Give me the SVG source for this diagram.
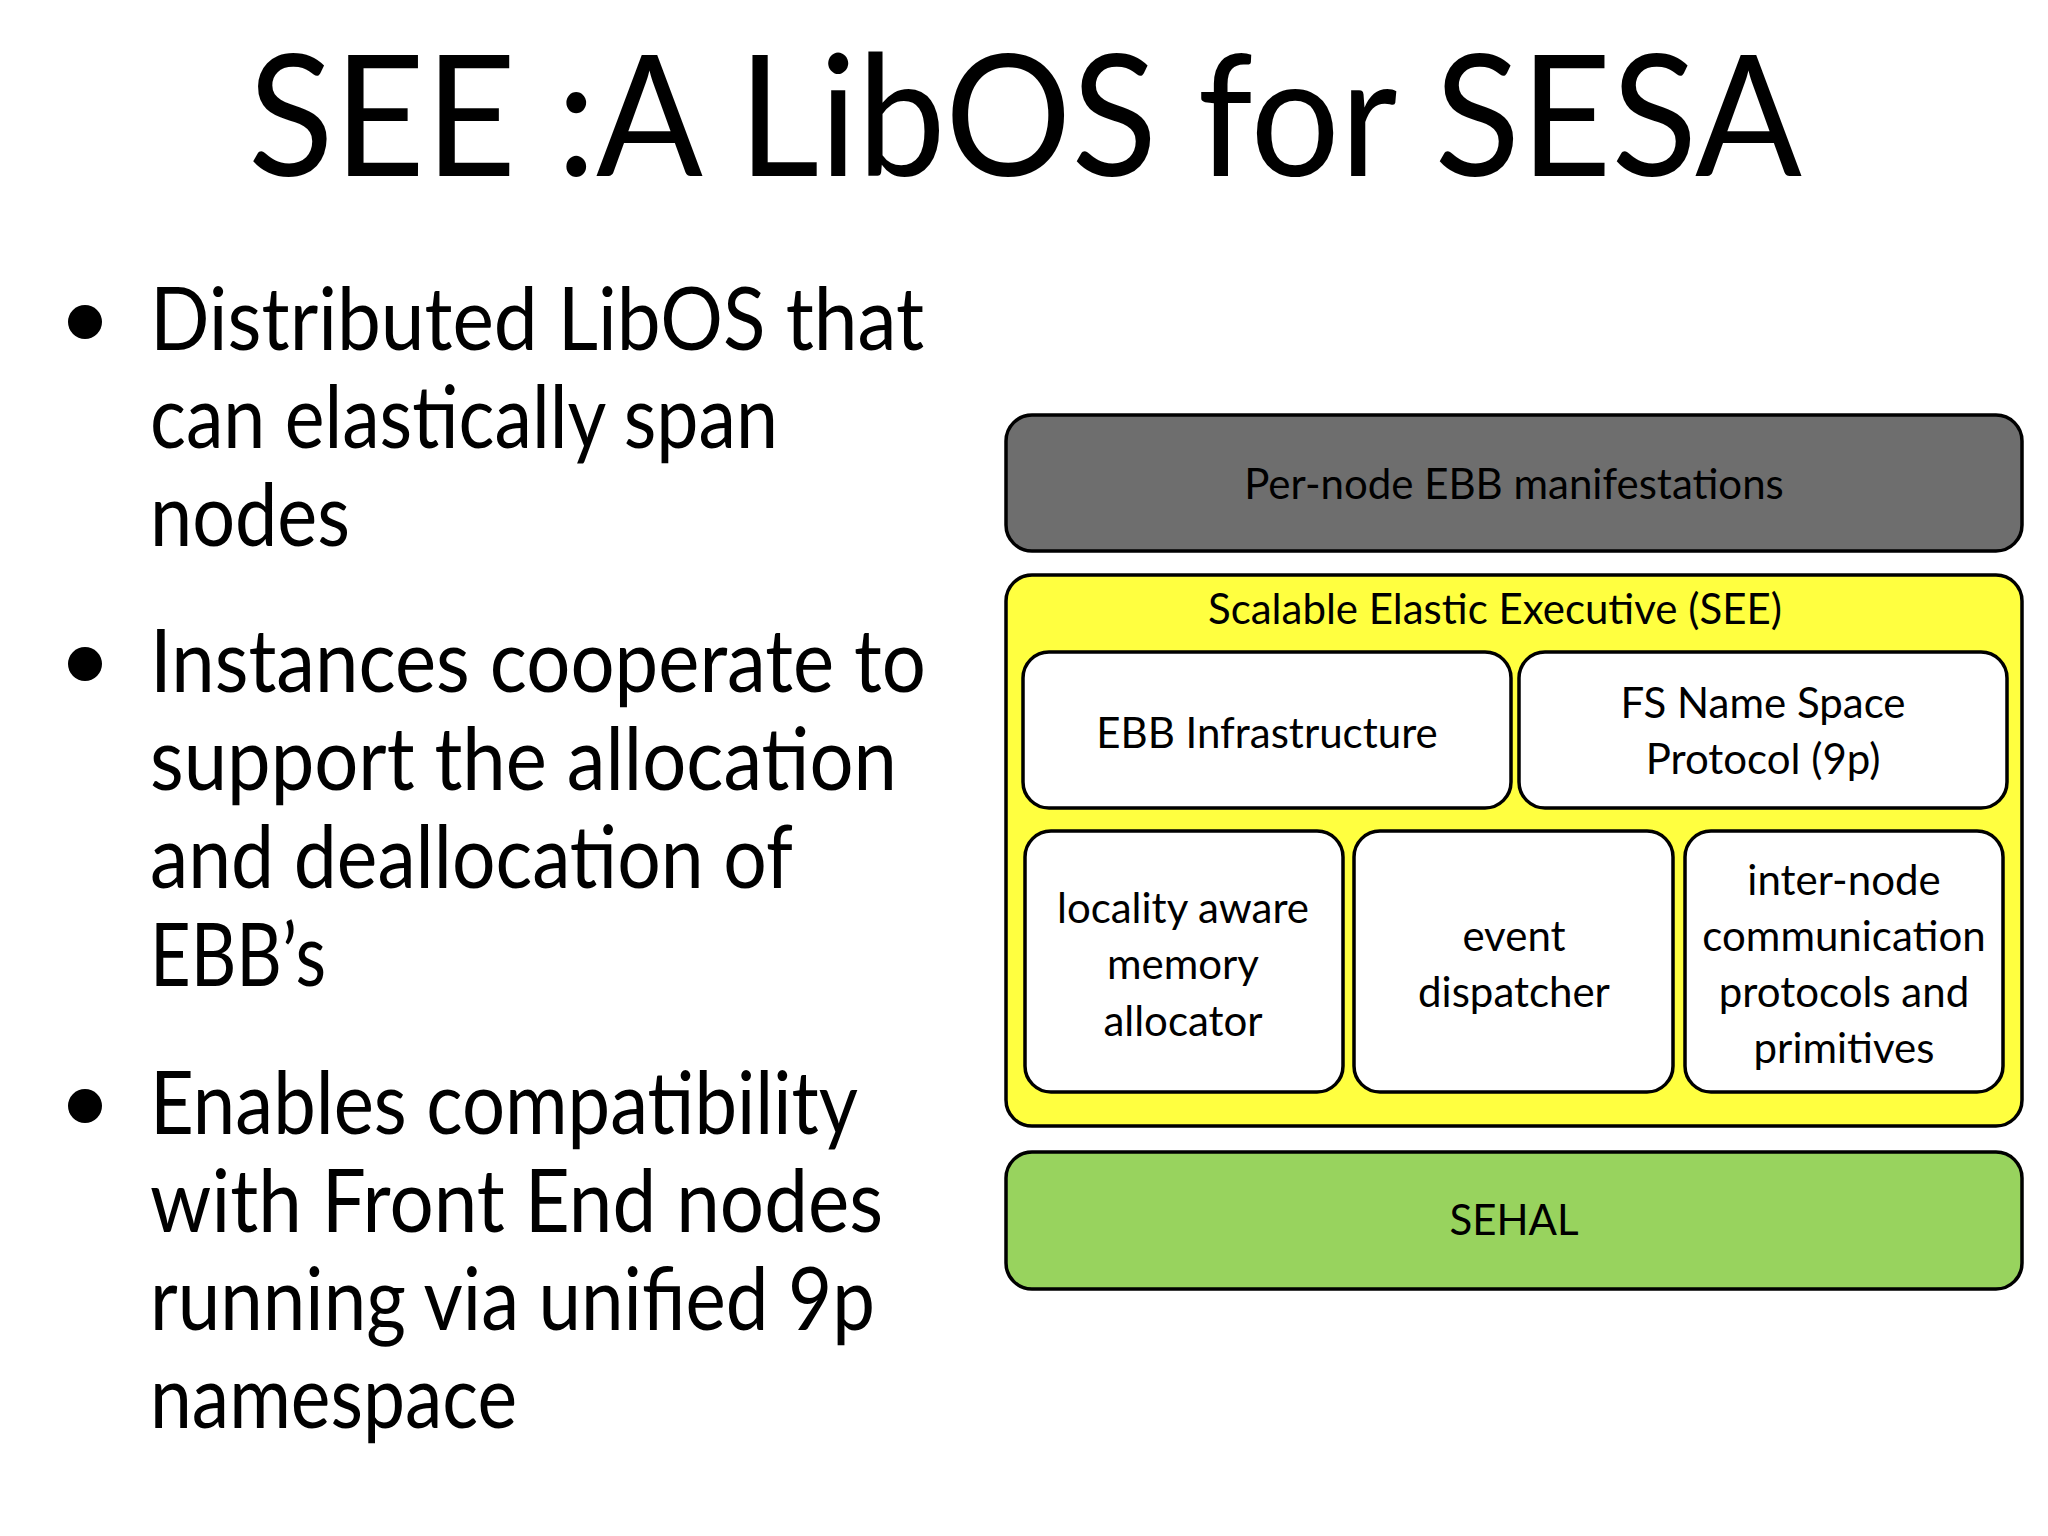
<svg xmlns="http://www.w3.org/2000/svg" width="2048" height="1536" viewBox="0 0 2048 1536">
<style>
text{font-family:"Lato","Liberation Sans",sans-serif;fill:#000}
.b{font-size:88px}
.t{font-size:42px;text-anchor:middle}
.box{stroke:#000;stroke-width:3.5}
</style>
<rect width="2048" height="1536" fill="#fff"/>
<text x="1025" y="176" font-size="168" text-anchor="middle" textLength="1554" lengthAdjust="spacingAndGlyphs">SEE :A LibOS for SESA</text>
<g id="bullets">
<circle cx="85" cy="322" r="17"/><circle cx="85" cy="664" r="17"/><circle cx="85" cy="1106" r="17"/>
<text class="b" x="150" y="350" textLength="774" lengthAdjust="spacingAndGlyphs">Distributed LibOS that</text>
<text class="b" x="150" y="448" textLength="628" lengthAdjust="spacingAndGlyphs">can elastically span</text>
<text class="b" x="150" y="546" textLength="200" lengthAdjust="spacingAndGlyphs">nodes</text>
<text class="b" x="150" y="692" textLength="776" lengthAdjust="spacingAndGlyphs">Instances cooperate to</text>
<text class="b" x="150" y="790" textLength="747" lengthAdjust="spacingAndGlyphs">support the allocation</text>
<text class="b" x="150" y="888" textLength="643" lengthAdjust="spacingAndGlyphs">and deallocation of</text>
<text class="b" x="150" y="986" textLength="176" lengthAdjust="spacingAndGlyphs">EBB’s</text>
<text class="b" x="150" y="1134" textLength="708" lengthAdjust="spacingAndGlyphs">Enables compatibility</text>
<text class="b" x="150" y="1232" textLength="733" lengthAdjust="spacingAndGlyphs">with Front End nodes</text>
<text class="b" x="150" y="1330" textLength="725" lengthAdjust="spacingAndGlyphs">running via unified 9p</text>
<text class="b" x="150" y="1428" textLength="367" lengthAdjust="spacingAndGlyphs">namespace</text>
</g>
<g id="per-node"><rect class="box" x="1006" y="415" width="1016" height="136" rx="26" fill="#6e6e6e"/>
<text class="t" x="1514" y="499">Per-node EBB manifestations</text></g>
<g id="see"><rect class="box" x="1006" y="575" width="1016" height="551" rx="26" fill="#ffff40"/>
<text class="t" x="1495" y="624">Scalable Elastic Executive (SEE)</text></g>
<g id="ebb-infra"><rect class="box" x="1023" y="652" width="488" height="156" rx="26" fill="#fff"/>
<text class="t" x="1267" y="748">EBB Infrastructure</text></g>
<g id="fs"><rect class="box" x="1519" y="652" width="488" height="156" rx="26" fill="#fff"/>
<text class="t" x="1763" y="718">FS Name Space</text><text class="t" x="1763" y="774">Protocol (9p)</text></g>
<g id="alloc"><rect class="box" x="1025" y="831" width="318" height="261" rx="26" fill="#fff"/>
<text class="t" x="1183" y="923">locality aware</text><text class="t" x="1183" y="979">memory</text><text class="t" x="1183" y="1036">allocator</text></g>
<g id="event"><rect class="box" x="1354" y="831" width="319" height="261" rx="26" fill="#fff"/>
<text class="t" x="1514" y="951">event</text><text class="t" x="1514" y="1007">dispatcher</text></g>
<g id="comm"><rect class="box" x="1685" y="831" width="318" height="261" rx="26" fill="#fff"/>
<text class="t" x="1844" y="895">inter-node</text><text class="t" x="1844" y="951">communication</text><text class="t" x="1844" y="1007">protocols and</text><text class="t" x="1844" y="1063">primitives</text></g>
<g id="sehal"><rect class="box" x="1006" y="1152" width="1016" height="137" rx="26" fill="#98d35e"/>
<text class="t" x="1514" y="1235">SEHAL</text></g>
<g id="connectors"/>
</svg>
